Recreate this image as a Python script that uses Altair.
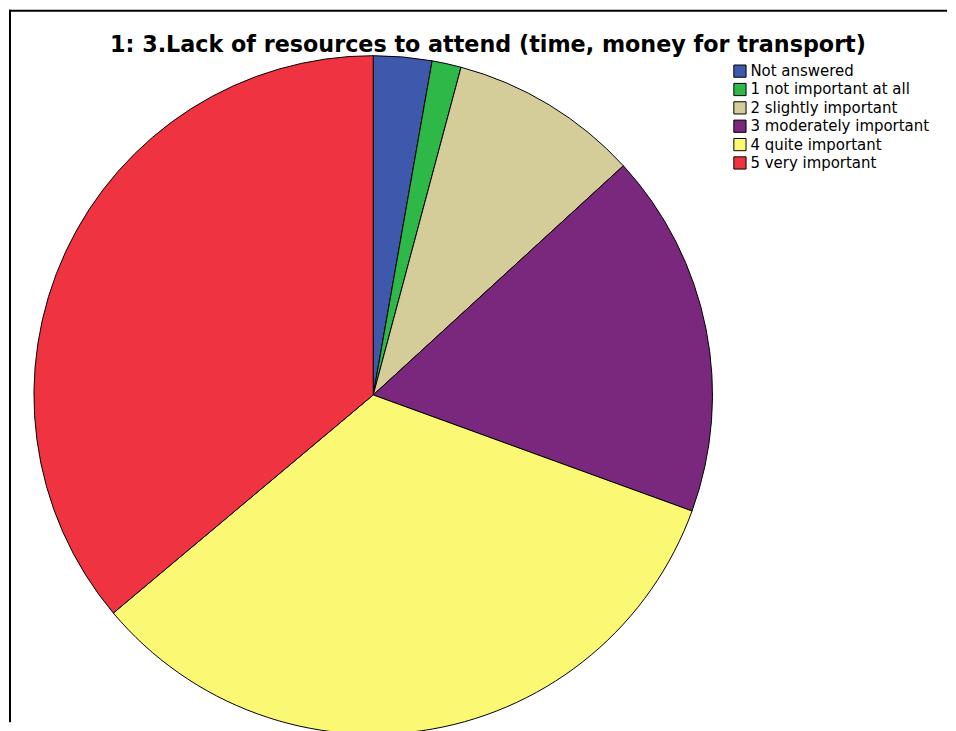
import altair as alt
import pandas as pd

categories = ["Not answered", "1 not important at all", "2 slightly important",
              "3 moderately important", "4 quite important", "5 very important"]
counts = [4, 2, 13, 25, 48, 52]
colors = ["#3E58AC", "#2EB848", "#D4CC99", "#79287D", "#FBF873", "#EF3340"]
title_text = "1: 3.Lack of resources to attend (time, money for transport)"

df = pd.DataFrame({"category": categories, "count": counts, "order": list(range(len(categories)))})

W, H = 940, 712

pie = alt.Chart(df).mark_arc(stroke="black", strokeWidth=1, radius=340).encode(
    theta=alt.Theta("count:Q", stack=True),
    order=alt.Order("order:Q"),
    color=alt.Color(
        "category:N",
        scale=alt.Scale(domain=categories, range=colors),
        sort=categories,
        legend=alt.Legend(
            title=None, orient="none", legendX=725, legendY=52,
            symbolType="square", symbolSize=150, symbolStrokeColor="black",
            symbolStrokeWidth=1, labelFont="DejaVu Sans", labelFontSize=15,
            labelColor="black", rowPadding=1.4, labelOffset=3, symbolOpacity=1,
            labelLimit=400,
        ),
    ),
    x=alt.value(365),
    y=alt.value(384),
)

title = alt.Chart(pd.DataFrame({"t": [title_text]})).mark_text(
    font="DejaVu Sans", fontWeight="bold", fontSize=22.3, color="black",
    align="center", baseline="middle",
).encode(text="t:N", x=alt.value(480), y=alt.value(33))

left_rule = alt.Chart(pd.DataFrame({"a": [0]})).mark_rule(color="black", strokeWidth=2).encode(
    x=alt.value(1), y=alt.value(-2), y2=alt.value(H))
top_rule = alt.Chart(pd.DataFrame({"a": [0]})).mark_rule(color="black", strokeWidth=2).encode(
    x=alt.value(0), x2=alt.value(W), y=alt.value(-1))

chart = alt.layer(left_rule, top_rule, pie, title).properties(
    width=W, height=H, padding=0
).configure_view(stroke=None)

chart.save("out.html", embed_options={"renderer": "svg", "actions": False})
